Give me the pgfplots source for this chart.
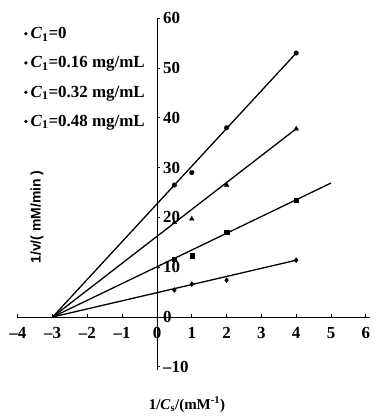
\documentclass[border=0pt]{standalone}
\usepackage{fontspec}
\setmainfont{Liberation Serif}
\newfontfamily\sansfam{Liberation Sans}
\usepackage{pgfplots}
\pgfplotsset{compat=1.18}
\begin{document}
\begin{tikzpicture}
\useasboundingbox (-157bp,-99bp) rectangle (217bp,317bp);
\begin{axis}[
  anchor=origin, at={(0,0)},
  x=34.8bp, y=4.98bp,
  xmin=-4.02, xmax=6.12, ymin=-10.6, ymax=60,
  axis lines=middle,
  axis line style={line width=0.9bp, -},
  clip=false,
  xtick={-4,-3,-2,-1,0,1,2,3,4,5,6},
  xticklabels={–4,–3,–2,–1,0,1,2,3,4,5,6},
  ytick={-10,0,10,20,30,40,50,60},
  yticklabels={–10,0,10,20,30,40,50,60},
  hide obscured x ticks=false, hide obscured y ticks=false,
  tick align=inside,
  major tick length=3bp,
  tick style={black, line width=0.7bp},
  xticklabel style={font=\fontsize{17}{17}\selectfont\bfseries, anchor=north, inner sep=0pt, yshift=-10bp},
  yticklabel style={font=\fontsize{17}{17}\selectfont\bfseries, anchor=west, inner sep=0pt, xshift=6bp},
  xlabel={\textbf{1/\textit{C}\textsubscript{s}/(mM\textsuperscript{-1})}},
  xlabel style={at={(axis cs:0.86,-17.6)}, anchor=center, font=\fontsize{15}{15}\selectfont},
  ylabel={\sansfam\bfseries 1/v/( mM/min )},
  ylabel style={at={(axis cs:-3.45,20.1)}, anchor=center, rotate=90, font=\fontsize{14}{14}\selectfont},
  legend style={draw=none, fill=none, at={(axis cs:-3.82,58.6)}, anchor=north west,
    inner sep=0pt, row sep=12.5bp, font=\fontsize{17}{17}\selectfont\bfseries,
    cells={anchor=west}, nodes={inner xsep=3bp}},
  legend image code/.code={\fill (0.1cm,0) circle (1.5bp);},
]
% series 1: C1 = 0
\addplot[black, line width=1.3bp, forget plot] coordinates {(-3,0) (4,53.0)};
\addplot[black, only marks, mark=*, mark size=2.3bp, forget plot] coordinates {(0.5,26.5) (1,29.0) (2,38.0) (4,53.0)};
% series 2: C1 = 0.16
\addplot[black, line width=1.3bp, forget plot] coordinates {(-3,0) (4,37.8)};
\addplot[black, only marks, mark=triangle*, mark size=2.6bp, forget plot] coordinates {(0.5,19.0) (1,19.7) (2,26.5) (4,37.8)};
% series 3: C1 = 0.32
\addplot[black, line width=1.3bp, forget plot] coordinates {(-3,0) (5,26.9)};
\addplot[black, only marks, mark=square*, mark size=2.1bp, forget plot] coordinates {(0.5,11.6) (1,12.3) (2,17.0) (4,23.5)};
% series 4: C1 = 0.48
\addplot[black, line width=1.3bp, forget plot] coordinates {(-3,0) (4,11.4)};
\addplot[black, only marks, mark=diamond*, mark size=2.5bp, forget plot] coordinates {(0.5,5.4) (1,6.6) (2,7.4) (4,11.4)};
\addlegendimage{black}
\addlegendentry{\textit{C}\textsubscript{1}=0}
\addlegendimage{black}
\addlegendentry{\textit{C}\textsubscript{1}=0.16 mg/mL}
\addlegendimage{black}
\addlegendentry{\textit{C}\textsubscript{1}=0.32 mg/mL}
\addlegendimage{black}
\addlegendentry{\textit{C}\textsubscript{1}=0.48 mg/mL}
\end{axis}
\end{tikzpicture}
\end{document}
